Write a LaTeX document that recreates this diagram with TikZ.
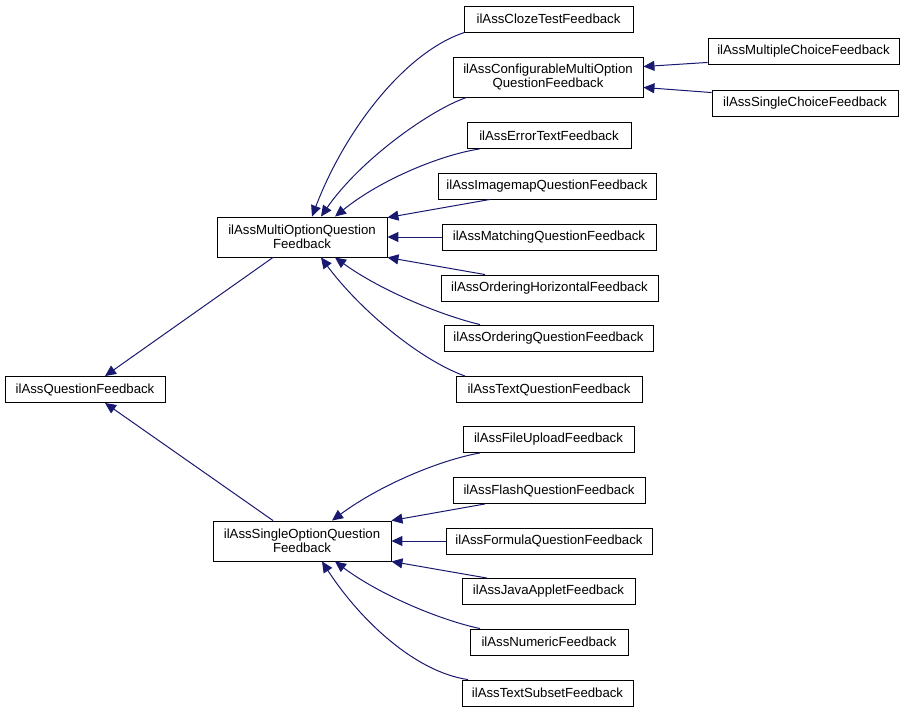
\documentclass[tikz,border=0pt]{standalone}
\usepackage{fontspec}
\setmainfont{Liberation Sans}
\usetikzlibrary{arrows.meta}
\definecolor{edgeblue}{RGB}{25,25,112}
\begin{document}
\begin{tikzpicture}[x=1pt,y=-1pt,
  cls/.style={draw=black,line width=0.9pt,inner sep=0pt,minimum height=26pt,
    font=\fontsize{13.2}{14}\selectfont,align=center,fill=white},
  cls2/.style={cls,minimum height=40pt},
  inh/.style={draw=edgeblue,line width=1pt,-{Triangle[length=11pt,width=10pt]},fill=none}]
\useasboundingbox (0,0) rectangle (908,712);
\fill[white] (0,0) rectangle (908,712);
% nodes
\node[cls,minimum width=160pt] (qf) at (85,389.5) {ilAssQuestionFeedback};
\node[cls2,minimum width=170pt] (mo) at (302,237) {ilAssMultiOptionQuestion\\Feedback};
\node[cls2,minimum width=178pt] (so) at (302,541) {ilAssSingleOptionQuestion\\Feedback};
\node[cls,minimum width=169pt] (cloze) at (548.5,19) {ilAssClozeTestFeedback};
\node[cls2,minimum width=190pt] (conf) at (548,77) {ilAssConfigurableMultiOption\\QuestionFeedback};
\node[cls,minimum width=191pt] (mc) at (803.5,51) {ilAssMultipleChoiceFeedback};
\node[cls,minimum width=186pt] (sc) at (805,103) {ilAssSingleChoiceFeedback};
\node[cls,minimum width=164pt] (err) at (549,135.5) {ilAssErrorTextFeedback};
\node[cls,minimum width=218pt] (img) at (547,186) {ilAssImagemapQuestionFeedback};
\node[cls,minimum width=214pt] (match) at (549,237) {ilAssMatchingQuestionFeedback};
\node[cls,minimum width=217pt] (ordh) at (549.5,288) {ilAssOrderingHorizontalFeedback};
\node[cls,minimum width=209pt] (ord) at (548.5,338) {ilAssOrderingQuestionFeedback};
\node[cls,minimum width=186pt] (txt) at (549,389.5) {ilAssTextQuestionFeedback};
\node[cls,minimum width=171pt] (fu) at (548.5,439.5) {ilAssFileUploadFeedback};
\node[cls,minimum width=192pt] (fl) at (549,490.5) {ilAssFlashQuestionFeedback};
\node[cls,minimum width=206pt] (fo) at (549,541) {ilAssFormulaQuestionFeedback};
\node[cls,minimum width=173pt] (ja) at (548.5,591.5) {ilAssJavaAppletFeedback};
\node[cls,minimum width=158pt] (nu) at (549,642) {ilAssNumericFeedback};
\node[cls,minimum width=171pt] (ts) at (547.5,693) {ilAssTextSubsetFeedback};
% edges to ilAssQuestionFeedback
\draw[inh] ([xshift=-29pt]mo.south) -- ([xshift=20pt]qf.north);
\draw[inh] ([xshift=-29pt]so.north) -- ([xshift=20pt]qf.south);
% edges to ilAssMultiOptionQuestionFeedback
\draw[inh] ([xshift=1pt]cloze.south west) .. controls (405,52) and (345,130) .. ([xshift=10pt]mo.north);
\draw[inh] ([xshift=14pt]conf.south west) .. controls (430,110) and (360,160) .. ([xshift=19pt]mo.north);
\draw[inh] ([xshift=13pt]err.south west) .. controls (440,155) and (380,180) .. ([xshift=33pt]mo.north);
\draw[inh] ([xshift=-57pt]img.south) -- ([yshift=-1pt]mo.north east);
\draw[inh] (match.west) -- (mo.east);
\draw[inh] ([xshift=-64.5pt]ordh.north) -- (mo.south east);
\draw[inh] ([xshift=-68.5pt]ord.north) .. controls (440,315) and (380,290) .. ([xshift=33pt]mo.south);
\draw[inh] ([xshift=-84pt]txt.north) .. controls (420,360) and (360,310) .. ([xshift=19pt]mo.south);
% edges to ilAssConfigurableMultiOptionQuestionFeedback
\draw[inh] ([yshift=2pt]mc.south west) -- ([yshift=-10pt]conf.north east);
\draw[inh] ([yshift=-3pt]sc.north west) -- ([yshift=10pt]conf.south east);
% edges to ilAssSingleOptionQuestionFeedback
\draw[inh] ([xshift=-68.5pt]fu.south) .. controls (440,460) and (380,485) .. ([xshift=30pt]so.north);
\draw[inh] ([xshift=-64pt]fl.south) -- (so.north east);
\draw[inh] (fo.west) -- (so.east);
\draw[inh] ([xshift=-61.5pt]ja.north) -- (so.south east);
\draw[inh] ([xshift=-69pt]nu.north) .. controls (440,620) and (380,595) .. ([xshift=33pt]so.south);
\draw[inh] ([xshift=-79.5pt]ts.north) .. controls (415,672) and (360,620) .. ([xshift=20pt]so.south);
\end{tikzpicture}
\end{document}
